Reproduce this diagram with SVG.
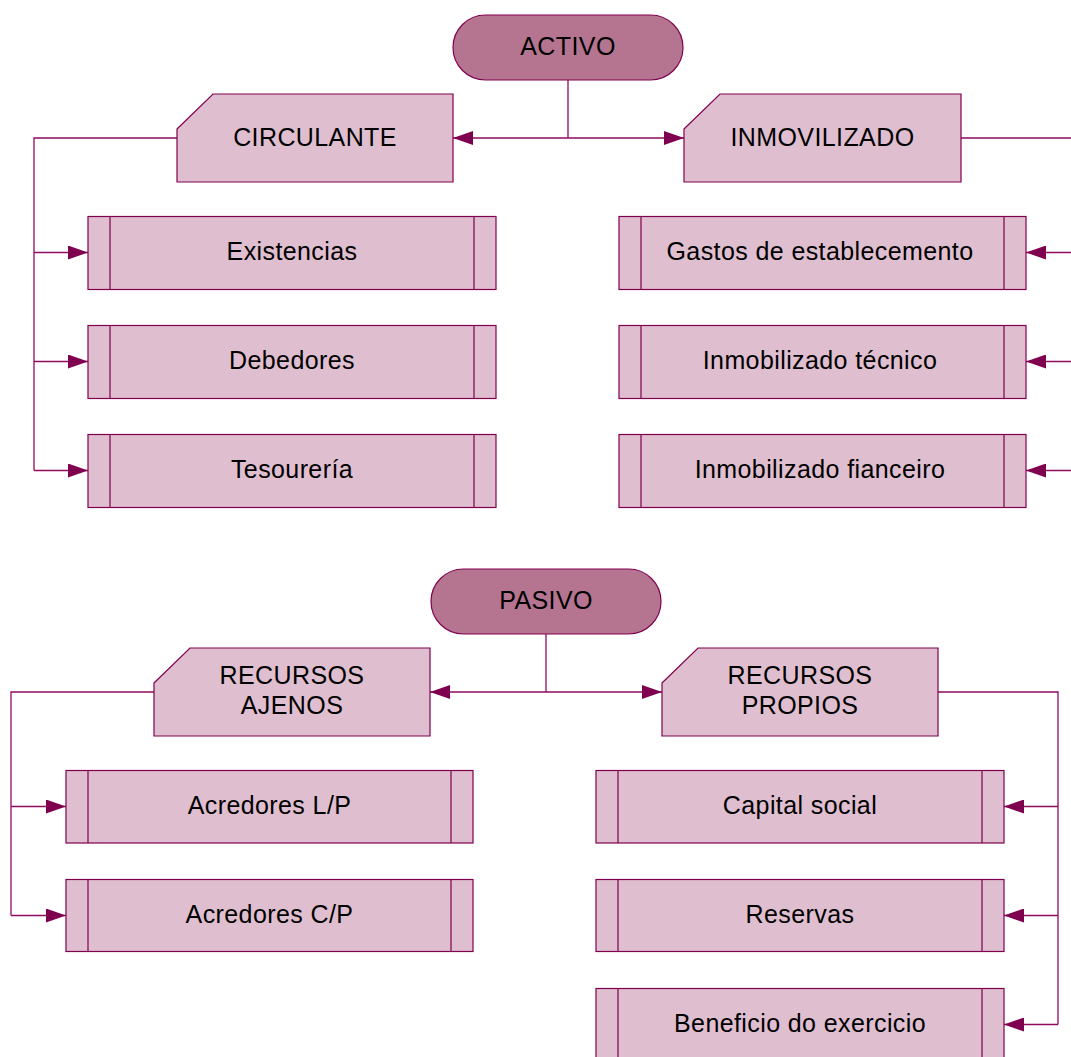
<svg xmlns="http://www.w3.org/2000/svg" width="1071" height="1057" viewBox="0 0 1071 1057">
<defs>
<marker id="arr" markerUnits="userSpaceOnUse" markerWidth="20" markerHeight="14" refX="20" refY="7" orient="auto">
<path d="M0,0 L20,7 L0,14 Z" fill="#800050"/>
</marker>
<style>
.term{fill:#b57591;stroke:#800050;stroke-width:1.2}
.card{fill:#dfbecf;stroke:#800050;stroke-width:1.2}
.box{fill:#dfbecf;stroke:#800050;stroke-width:1.2}
.bar{stroke:#800050;stroke-width:1.2;fill:none}
.con{stroke:#900a5e;stroke-width:1.3;fill:none}
.arr{marker-end:url(#arr)}
text{font-family:"Liberation Sans",Arial,sans-serif;font-size:25px;letter-spacing:0.4px;fill:#000;text-anchor:middle}
</style>
</defs>
<rect width="1071" height="1057" fill="#fff"/>
<g id="connectors">
<path class="con" d="M568,80 V138"/>
<path class="con arr" d="M568,138 H453"/>
<path class="con arr" d="M568,138 H684"/>
<path class="con" d="M177,138 H34 V470.5"/>
<path class="con arr" d="M34,252.5 H88"/>
<path class="con arr" d="M34,361.5 H88"/>
<path class="con arr" d="M34,470.5 H88"/>
<path class="con" d="M961,138 H1080 V470.5"/>
<path class="con arr" d="M1080,252.5 H1026"/>
<path class="con arr" d="M1080,361.5 H1026"/>
<path class="con arr" d="M1080,470.5 H1026"/>
<path class="con" d="M546,634 V692"/>
<path class="con arr" d="M546,692 H430"/>
<path class="con arr" d="M546,692 H662"/>
<path class="con" d="M154,692 H11 V915.5"/>
<path class="con arr" d="M11,806.5 H66"/>
<path class="con arr" d="M11,915.5 H66"/>
<path class="con" d="M938,692 H1058 V1024.5"/>
<path class="con arr" d="M1058,806.5 H1004"/>
<path class="con arr" d="M1058,915.5 H1004"/>
<path class="con arr" d="M1058,1024.5 H1004"/>
</g>
<g id="activo"><rect class="term" x="453" y="15" width="230" height="65" rx="32.5"/><text x="568" y="55">ACTIVO</text></g>
<g id="circulante"><path class="card" d="M177,129 L213,94 H453 V182 H177 Z"/><text x="315" y="146">CIRCULANTE</text></g>
<g id="inmovilizado"><path class="card" d="M684,129 L720,94 H961 V182 H684 Z"/><text x="822.5" y="146">INMOVILIZADO</text></g>
<g id="existencias"><rect class="box" x="88" y="216.5" width="408" height="73"/><path class="bar" d="M110,216.5 V289.5 M474,216.5 V289.5"/><text x="292" y="260">Existencias</text></g>
<g id="debedores"><rect class="box" x="88" y="325.5" width="408" height="73"/><path class="bar" d="M110,325.5 V398.5 M474,325.5 V398.5"/><text x="292" y="369">Debedores</text></g>
<g id="tesoureria"><rect class="box" x="88" y="434.5" width="408" height="73"/><path class="bar" d="M110,434.5 V507.5 M474,434.5 V507.5"/><text x="292" y="478">Tesourería</text></g>
<g id="gastos"><rect class="box" x="619" y="216.5" width="407" height="73"/><path class="bar" d="M641,216.5 V289.5 M1004,216.5 V289.5"/><text x="820" y="260">Gastos de establecemento</text></g>
<g id="tecnico"><rect class="box" x="619" y="325.5" width="407" height="73"/><path class="bar" d="M641,325.5 V398.5 M1004,325.5 V398.5"/><text x="820" y="369">Inmobilizado técnico</text></g>
<g id="financeiro"><rect class="box" x="619" y="434.5" width="407" height="73"/><path class="bar" d="M641,434.5 V507.5 M1004,434.5 V507.5"/><text x="820" y="478">Inmobilizado fianceiro</text></g>
<g id="pasivo"><rect class="term" x="431" y="569" width="230" height="65" rx="32.5"/><text x="546" y="609">PASIVO</text></g>
<g id="ajenos"><path class="card" d="M154,683 L190,648 H430 V736 H154 Z"/><text x="292" y="684">RECURSOS</text><text x="292" y="714">AJENOS</text></g>
<g id="propios"><path class="card" d="M662,683 L698,648 H938 V736 H662 Z"/><text x="800" y="684">RECURSOS</text><text x="800" y="714">PROPIOS</text></g>
<g id="acredoresLP"><rect class="box" x="66" y="770.5" width="407" height="72.5"/><path class="bar" d="M88,770.5 V843 M451,770.5 V843"/><text x="269.5" y="814">Acredores L/P</text></g>
<g id="acredoresCP"><rect class="box" x="66" y="879.5" width="407" height="72"/><path class="bar" d="M88,879.5 V951.5 M451,879.5 V951.5"/><text x="269.5" y="923">Acredores C/P</text></g>
<g id="capital"><rect class="box" x="596" y="770.5" width="408" height="72.5"/><path class="bar" d="M618,770.5 V843 M982,770.5 V843"/><text x="800" y="814">Capital social</text></g>
<g id="reservas"><rect class="box" x="596" y="879.5" width="408" height="72"/><path class="bar" d="M618,879.5 V951.5 M982,879.5 V951.5"/><text x="800" y="923">Reservas</text></g>
<g id="beneficio"><rect class="box" x="596" y="988.5" width="408" height="73"/><path class="bar" d="M618,988.5 V1061.5 M982,988.5 V1061.5"/><text x="800" y="1032">Beneficio do exercicio</text></g>
</svg>
